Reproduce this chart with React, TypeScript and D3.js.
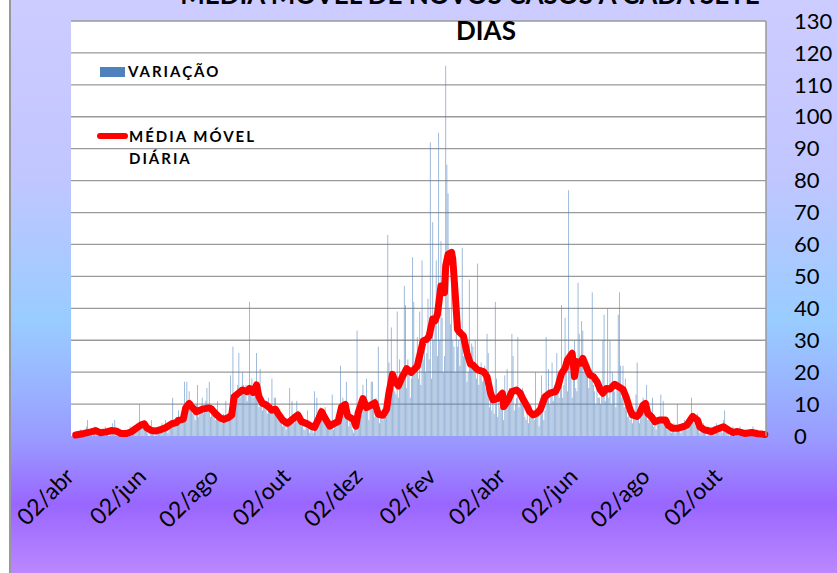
import React from "react";
import * as d3 from "d3";

// first day of the series: 02/abr/2020
const START = new Date(2020, 3, 2);

// daily new cases (bars), one value per day starting at START
const dailyCases: number[] = [
  0, 0, 1, 0, 0, 2, 0, 1, 0, 1,
  3, 5, 0, 1, 2, 0, 1, 3, 2, 1,
  0, 1, 0, 2, 1, 0, 3, 1, 2, 0,
  2, 1, 4, 2, 5, 1, 0, 1, 2, 0,
  1, 0, 0, 2, 1, 0, 1, 3, 0, 2,
  1, 3, 2, 4, 2, 10, 3, 4, 3, 5,
  2, 3, 1, 0, 2, 5, 1, 2, 0, 1,
  2, 3, 1, 2, 4, 2, 3, 5, 2, 1,
  3, 4, 5, 12, 4, 3, 6, 5, 8, 4,
  6, 5, 8, 17, 9, 17, 8, 14, 10, 9,
  7, 8, 5, 10, 16, 6, 8, 9, 12, 7,
  9, 11, 15, 10, 17, 6, 9, 8, 7, 5,
  6, 11, 7, 5, 6, 4, 7, 6, 11, 5,
  6, 8, 19, 10, 28, 12, 14, 11, 16, 26,
  12, 15, 20, 16, 13, 16, 11, 14, 42, 13,
  18, 12, 15, 14, 26, 11, 9, 21, 12, 8,
  10, 9, 11, 7, 12, 8, 10, 18, 9, 12,
  12, 6, 8, 5, 7, 4, 3, 6, 5, 2,
  4, 3, 15, 5, 11, 6, 4, 7, 11, 8,
  5, 6, 3, 4, 2, 2, 3, 8, 4, 1,
  2, 3, 1, 14, 2, 12, 6, 4, 9, 8,
  6, 5, 9, 4, 3, 2, 5, 3, 13, 2,
  3, 4, 4, 5, 6, 22, 9, 12, 8, 10,
  17, 5, 3, 6, 4, 2, 1, 5, 3, 33,
  6, 9, 7, 12, 16, 8, 10, 18, 9, 5,
  11, 17, 17, 8, 6, 12, 7, 28, 4, 6,
  7, 5, 9, 8, 6, 63, 23, 10, 34, 18,
  15, 14, 13, 39, 12, 24, 20, 16, 18, 47,
  41, 15, 24, 20, 12, 18, 56, 42, 22, 25,
  31, 18, 39, 16, 55, 24, 30, 20, 26, 43,
  24, 92, 18, 67, 30, 36, 55, 25, 95, 30,
  61, 37, 20, 25, 116, 85, 76, 40, 35, 51,
  30, 28, 20, 35, 28, 30, 22, 33, 59, 25,
  30, 28, 17, 20, 49, 24, 29, 28, 22, 30,
  18, 54, 16, 20, 23, 17, 19, 22, 15, 32,
  26, 9, 12, 8, 10, 7, 42, 18, 6, 11,
  9, 14, 10, 5, 19, 12, 21, 11, 15, 10,
  32, 25, 8, 10, 12, 31, 9, 11, 10, 15,
  14, 6, 5, 8, 4, 9, 10, 7, 6, 5,
  20, 6, 9, 3, 12, 19, 11, 5, 8, 31,
  12, 21, 10, 14, 23, 11, 16, 15, 26, 13,
  12, 15, 41, 12, 16, 37, 20, 14, 77, 22,
  20, 12, 18, 30, 15, 14, 48, 32, 25, 36,
  33, 20, 24, 21, 22, 15, 18, 19, 45, 16,
  14, 10, 15, 12, 12, 10, 13, 30, 38, 11,
  14, 40, 12, 30, 10, 20, 16, 14, 9, 16,
  38, 45, 22, 12, 22, 9, 18, 8, 6, 10,
  5, 7, 4, 6, 8, 13, 23, 8, 4, 6,
  9, 12, 8, 10, 16, 5, 7, 6, 4, 12,
  3, 4, 2, 6, 5, 4, 13, 5, 11, 3,
  4, 6, 2, 5, 3, 1, 2, 4, 1, 3,
  10, 2, 3, 1, 4, 2, 5, 3, 2, 4,
  6, 5, 12, 7, 4, 5, 3, 7, 2, 1,
  2, 3, 4, 1, 2, 0, 3, 1, 2, 1,
  2, 3, 1, 4, 2, 1, 3, 2, 1, 5,
  8, 3, 2, 1, 0, 2, 1, 3, 1, 0,
  2, 1, 0, 3, 1, 2, 0, 1, 1, 0,
  1, 2, 0, 1, 3, 0, 1, 0, 2, 1,
  0, 1, 0, 0, 1,
];

// moving average: [days after START, value]
const movingAvg: [number, number][] = [
  [1, 0.3], [8, 0.8], [14, 1.3], [18, 1.7], [22, 1.0], [27, 1.3], [31, 1.7], [35, 1.6],
  [39, 0.8], [44, 0.8], [48, 1.3], [52, 2.4], [56, 3.4], [59, 3.8], [61, 2.6], [65, 1.7],
  [69, 1.6], [73, 2.0], [77, 2.6], [82, 3.8], [86, 4.2], [88, 4.9], [92, 5.3], [94, 8.8],
  [97, 10.2], [99, 9.2], [103, 7.6], [109, 8.5], [114, 8.8], [116, 8.4], [119, 7.1],
  [123, 5.7], [126, 5.2], [130, 5.7], [133, 6.6], [135, 12.3], [138, 13.2], [142, 14.4],
  [146, 13.9], [148, 14.9], [151, 13.6], [154, 16.0], [156, 12.3], [159, 10.2], [161, 10.0],
  [164, 9.2], [167, 8.1], [170, 8.4], [172, 7.1], [176, 5.0], [180, 4.0], [182, 4.5],
  [187, 6.1], [189, 6.6], [192, 4.5], [197, 3.8], [201, 2.9], [203, 2.7], [206, 5.0],
  [209, 7.6], [212, 5.5], [216, 3.1], [220, 4.0], [223, 4.5], [226, 9.2], [229, 9.9],
  [231, 6.3], [236, 5.2], [238, 3.1], [240, 7.3], [244, 11.7], [247, 8.9], [252, 9.9],
  [254, 10.4], [257, 6.8], [261, 6.5], [264, 8.4], [266, 13.6], [269, 19.3], [271, 17.2],
  [274, 15.7], [277, 18.3], [281, 21.1], [285, 19.9], [290, 21.9], [292, 25.1], [295, 29.8],
  [298, 30.3], [300, 31.3], [303, 36.6], [305, 36.1], [307, 38.1], [310, 47.0], [313, 44.9],
  [314, 53.3], [316, 56.9], [319, 57.5], [320, 55.4], [322, 44.9], [324, 33.4], [326, 32.4],
  [329, 31.3], [332, 26.1], [335, 22.5], [337, 22.3], [341, 20.7], [346, 20.2], [349, 18.6],
  [352, 13.4], [354, 11.3], [358, 11.8], [362, 13.4], [363, 9.2], [367, 11.3], [370, 13.9],
  [374, 14.4], [377, 13.4], [379, 11.8], [383, 9.2], [385, 7.6], [388, 6.6], [391, 7.1],
  [394, 8.2], [398, 12.3], [402, 13.4], [407, 13.9], [409, 15.5], [412, 19.6], [415, 21.2],
  [417, 23.8], [421, 25.9], [423, 18.6], [425, 23.3], [428, 22.8], [430, 24.3], [434, 20.7],
  [436, 19.1], [439, 18.6], [442, 17.0], [445, 14.4], [447, 13.4], [450, 14.9], [453, 14.7],
  [457, 16.2], [460, 15.5], [464, 14.6], [467, 11.8], [470, 8.2], [472, 6.6], [476, 6.1],
  [478, 7.1], [481, 9.7], [483, 10.2], [485, 7.1], [488, 6.1], [491, 4.5], [495, 5.0],
  [500, 5.0], [502, 3.4], [506, 2.4], [510, 2.4], [515, 2.9], [518, 3.4], [521, 5.0],
  [523, 6.1], [527, 5.0], [529, 2.9], [533, 1.9], [539, 1.4], [544, 2.2], [549, 2.9],
  [553, 1.9], [557, 1.1], [561, 1.4], [567, 0.8], [573, 1.1], [578, 0.7], [584, 0.5],
];

const tickDates = [
  "2020-04-02", "2020-06-02", "2020-08-02", "2020-10-02", "2020-12-02",
  "2021-02-02", "2021-04-02", "2021-06-02", "2021-08-02", "2021-10-02",
];
const tickLabels = [
  "02/abr", "02/jun", "02/ago", "02/out", "02/dez",
  "02/fev", "02/abr", "02/jun", "02/ago", "02/out",
];

const titleLines = ["MÉDIA MÓVEL DE NOVOS CASOS A CADA SETE", "DIAS"];
const legendBars = "VARIAÇÃO";
const legendLine = ["MÉDIA MÓVEL", "DIÁRIA"];

const W = 837;
const H = 573;
const plot = { left: 71, right: 766, top: 21, bottom: 436 };
const FONT = "Lato, 'Open Sans', sans-serif";

export default function App() {
  const x = d3
    .scaleTime()
    .domain([new Date(2020, 2, 30), new Date(2021, 10, 8)])
    .range([plot.left, plot.right]);
  const y = d3.scaleLinear().domain([0, 130]).range([plot.bottom, plot.top]);
  const day = (i: number) => d3.timeDay.offset(START, i);
  const parse = d3.timeParse("%Y-%m-%d");

  const line = d3
    .line<[number, number]>()
    .x((d) => x(day(d[0])))
    .y((d) => y(d[1]));

  const barW = 0.9;

  return (
    <svg
      width={W}
      height={H}
      style={{ position: "absolute", left: 0, top: 0 }}
      fontFamily={FONT}
    >
      <defs>
        <linearGradient id="bg" x1="0" y1="0" x2="0" y2="1">
          <stop offset="0" stopColor="#ccccff" />
          <stop offset="0.3" stopColor="#c2c6ff" />
          <stop offset="0.56" stopColor="#99ccff" />
          <stop offset="0.68" stopColor="#99b2ff" />
          <stop offset="0.77" stopColor="#9999ff" />
          <stop offset="0.88" stopColor="#9966ff" />
          <stop offset="1" stopColor="#bb88ff" />
        </linearGradient>
      </defs>
      <rect x={0} y={0} width={W} height={H} fill="#ffffff" />
      <rect x={10} y={0} width={W - 10} height={H} fill="url(#bg)" />
      <line x1={10} x2={10} y1={0} y2={H} stroke="#999999" strokeWidth={2} />

      {/* plot area */}
      <rect
        x={plot.left}
        y={plot.top}
        width={plot.right - plot.left}
        height={plot.bottom - plot.top}
        fill="#ffffff"
      />
      {y.ticks(13).filter((t) => t > 0).map((t) => (
        <line
          key={t}
          x1={plot.left}
          x2={plot.right}
          y1={y(t)}
          y2={y(t)}
          stroke="#9a9a9a"
          strokeWidth={1.3}
        />
      ))}

      {/* bars */}
      <g fill="#4f81bd" fillOpacity={0.6}>
        {dailyCases.map((v, i) => (
          <rect
            key={i}
            x={x(day(i)) - barW / 2}
            y={y(v)}
            width={barW}
            height={y(0) - y(v)}
          />
        ))}
      </g>

      {/* moving average */}
      <path
        d={line(movingAvg) || ""}
        fill="none"
        stroke="#ff0000"
        strokeWidth={7}
        strokeLinejoin="round"
        strokeLinecap="round"
      />

      <line
        x1={plot.right}
        x2={plot.right}
        y1={plot.top}
        y2={plot.bottom}
        stroke="#9a9a9a"
        strokeWidth={1.5}
      />

      {/* title (cut by the top edge, as in the original) */}
      <g fontWeight="bold" fontSize={26} textAnchor="middle" fill="#000">
        <text x={470} y={4}>{titleLines[0]}</text>
        <text x={486} y={40}>{titleLines[1]}</text>
      </g>

      {/* right axis */}
      <g fontSize={22} fill="#000">
        {y.ticks(13).map((t) => (
          <text key={t} x={794} y={y(t)} dy="0.35em">
            {t}
          </text>
        ))}
      </g>

      {/* x labels */}
      <g fontSize={23} fill="#000" textAnchor="end">
        {tickDates.map((s, i) => {
          const tx = x(parse(s) as Date);
          return (
            <text key={s + i} transform={`translate(${tx + 1},${478}) rotate(-45)`}>
              {tickLabels[i]}
            </text>
          );
        })}
      </g>

      {/* legend */}
      <g fontWeight="bold" fontSize={15} letterSpacing={2} fill="#000">
        <rect x={100} y={67} width={25} height={10} fill="#4f81bd" />
        <text x={128} y={77}>{legendBars}</text>
        <line
          x1={100}
          x2={125}
          y1={136}
          y2={136}
          stroke="#ff0000"
          strokeWidth={6}
          strokeLinecap="round"
        />
        <text x={129} y={142}>{legendLine[0]}</text>
        <text x={129} y={164}>{legendLine[1]}</text>
      </g>
    </svg>
  );
}
